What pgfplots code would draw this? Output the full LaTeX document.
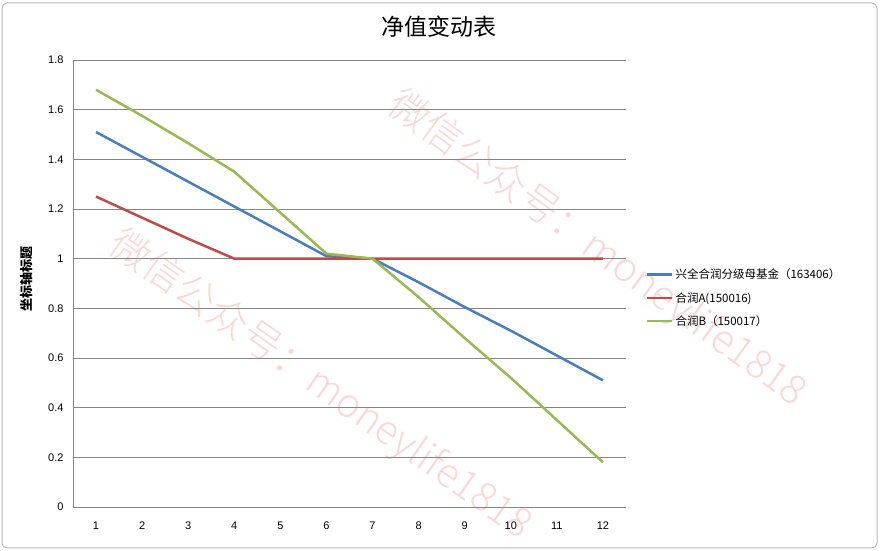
\documentclass[border=0pt]{standalone}
\usepackage{fontspec}
\usepackage{pgfplots}
\pgfplotsset{compat=1.18}
\setmainfont{Liberation Sans}
\newfontfamily\cjk{Noto Sans CJK SC}
\newfontfamily\cjklight{Noto Sans CJK SC Light}
\definecolor{mblue}{HTML}{4A7EBB}
\definecolor{mred}{HTML}{BE4B48}
\definecolor{mgreen}{HTML}{98B954}
\definecolor{gridc}{HTML}{868686}
\definecolor{wm}{HTML}{F9D8D8}
\begin{document}
\begin{tikzpicture}[x=1pt,y=1pt]
\path[use as bounding box] (0,0) rectangle (881,551);
\draw[color=gray!55, rounded corners=5pt, line width=1pt] (2,3) rectangle (877,548);
\node[rotate=-36, text=wm, font=\cjklight\fontsize{40}{40}\selectfont] at (597,302) {微信公众号：moneylife1818};
\node[rotate=-35, text=wm, font=\cjklight\fontsize{40}{40}\selectfont] at (320,166) {微信公众号：moneylife1818};
\node[font=\cjk\fontsize{23}{23}\selectfont] at (439,524) {净值变动表};
\node[rotate=90, font=\cjk\bfseries\fontsize{13}{13}\selectfont] at (27,272) {坐标轴标题};
\begin{axis}[
  scale only axis, width=553pt, height=447pt,
  at={(73pt,44pt)}, anchor=south west,
  xmin=0.5, xmax=12.5, ymin=0, ymax=1.8,
  xtick={1,2,3,4,5,6,7,8,9,10,11,12},
  ytick={0,0.2,0.4,0.6,0.8,1,1.2,1.4,1.6,1.8},
  yticklabels={0,0.2,0.4,0.6,0.8,1,1.2,1.4,1.6,1.8},
  axis lines*=left,
  axis line style={gridc, line width=0.8pt},
  ymajorgrids, grid style={gridc, line width=0.8pt},
  major tick length=0pt,
  tick label style={font=\fontsize{11}{11}\selectfont},
  /pgf/number format/assume math mode=true,
  xticklabel style={yshift=-11pt},
  yticklabel style={xshift=-6pt},
  legend style={at={(1.034,0.4676)}, anchor=west, draw=none, fill=none,
    font=\cjk\fontsize{11.5}{12}\selectfont, row sep=8pt, inner sep=1pt},
  legend cell align=left,
  legend image code/.code={\draw[#1, line width=2.5pt] (0pt,0pt) -- (25pt,0pt);},
  clip=false,
]
\addplot[mblue, line width=2.5pt, line join=round] coordinates {(1,1.51)(2,1.41)(3,1.31)(4,1.21)(5,1.11)(6,1.01)(7,1.00)(8,0.905)(9,0.805)(10,0.71)(11,0.61)(12,0.51)};
\addlegendentry{兴全合润分级母基金（163406）}
\addplot[mred, line width=2.5pt, line join=round] coordinates {(1,1.25)(2,1.165)(3,1.08)(4,1.0)(5,1.0)(6,1.0)(7,1.0)(8,1.0)(9,1.0)(10,1.0)(11,1.0)(12,1.0)};
\addlegendentry{合润A(150016)}
\addplot[mgreen, line width=2.5pt, line join=round] coordinates {(1,1.68)(2,1.575)(3,1.465)(4,1.35)(5,1.185)(6,1.02)(7,1.0)(8,0.845)(9,0.68)(10,0.52)(11,0.35)(12,0.18)};
\addlegendentry{合润B（150017）}
\end{axis}
\end{tikzpicture}
\end{document}
